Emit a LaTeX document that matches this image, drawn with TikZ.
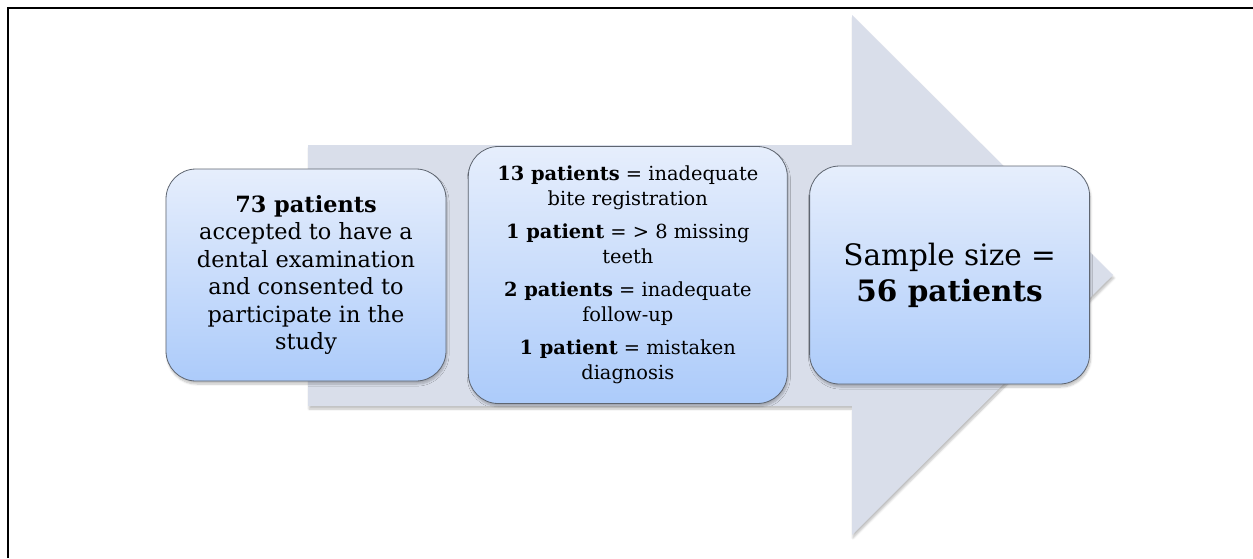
\documentclass[tikz,border=0pt]{standalone}
\usepackage{fontspec}
\setmainfont{DejaVu Serif}
\usetikzlibrary{positioning,shadows.blur}
\definecolor{arrowfill}{HTML}{D9DEEA}
\definecolor{boxtop}{HTML}{E6EEFC}
\definecolor{boxbot}{HTML}{ACCBFA}
\definecolor{boxline}{HTML}{5E6570}

\begin{document}
\begin{tikzpicture}[x=1pt,y=-1pt,node distance=21.5pt,
    soft/.style={blur shadow={shadow xshift=1pt,shadow yshift=-3pt,shadow opacity=25,shadow blur steps=6}},
    stage/.style={draw=boxline,line width=0.8pt,rounded corners=30pt,top color=boxtop,bottom color=boxbot,
      align=center,inner sep=0pt,soft}]
  \useasboundingbox (0,0) rectangle (1253,558);
  \draw[line width=2pt] (8,558) -- (8,7.5) -- (1253,7.5);
  % big flow arrow behind the boxes
  \fill[arrowfill,soft] (308,145) -- (852,145) -- (852,15) -- (1113,275) -- (852,535) -- (852,406) -- (308,406) -- cycle;
  \node[stage,minimum width=280pt,minimum height=212pt,font=\fontsize{22.4}{27.5}\selectfont] (enrolled) at (306,275)
    {\textbf{73 patients}\\ accepted to have a\\ dental examination\\ and consented to\\ participate in the\\ study};
  \node[stage,right=of enrolled,minimum width=319pt,minimum height=257pt,font=\fontsize{19.4}{25}\selectfont] (excluded)
    {\textbf{13 patients} = inadequate\\ bite registration\\[8pt]
     \textbf{1 patient} = > 8 missing\\ teeth\\[8pt]
     \textbf{2 patients} = inadequate\\ follow-up\\[8pt]
     \textbf{1 patient} = mistaken\\ diagnosis};
  \node[stage,right=of excluded,minimum width=280pt,minimum height=218pt,font=\fontsize{29.5}{36}\selectfont] (sample)
    {Sample size =\\ \textbf{56 patients}};
\end{tikzpicture}
\end{document}
